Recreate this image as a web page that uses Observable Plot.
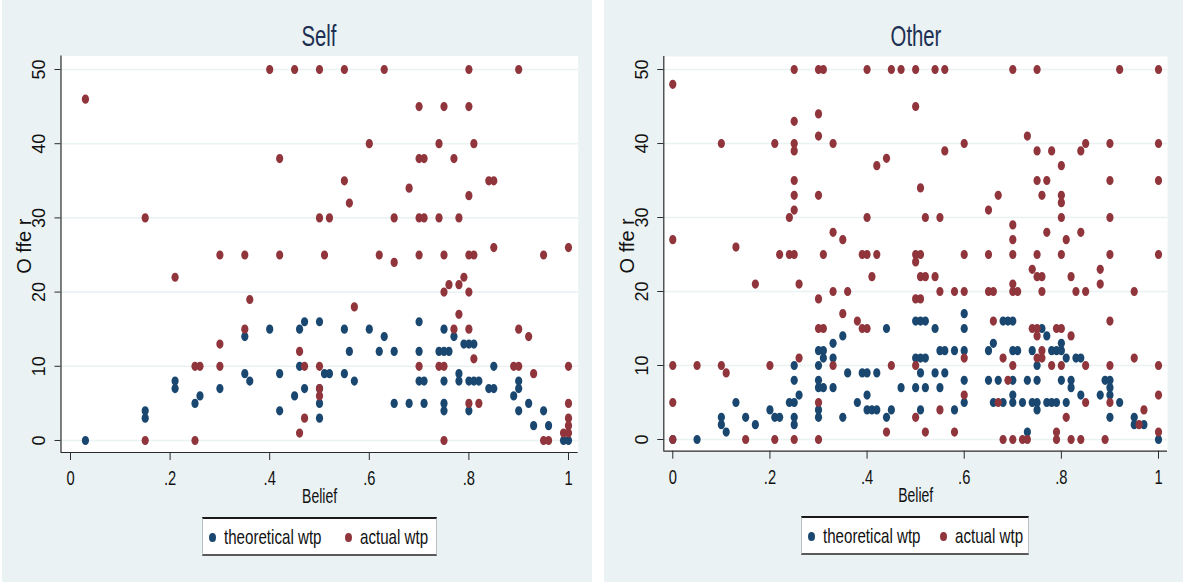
<!DOCTYPE html>
<html>
<head>
<meta charset="utf-8">
<script src="https://cdn.jsdelivr.net/npm/d3@7"></script>
<script src="https://cdn.jsdelivr.net/npm/@observablehq/plot@0.6"></script>
<style>
  html, body { margin: 0; padding: 0; background: #ffffff; }
  body { position: relative; width: 1183px; height: 582px; overflow: hidden;
         font-family: "Liberation Sans", Arial, sans-serif; }
  .panel { position: absolute; top: 0; height: 582px; background: #eaf2f3; }
  .chart { position: absolute; top: 0; }
  .title { position: absolute; top: 20px; font-size: 29px; color: #1d2f52;
           white-space: nowrap; transform: translateX(-50%) scaleX(0.7); }
  .legend { position: absolute; background: #ffffff; box-sizing: border-box;
            border: 1px solid #b9c0c2; border-top: 2px solid #1a1a1a; border-bottom: 2px solid #5a5a5a; }
  .key { position: absolute; width: 7px; height: 9px; border-radius: 50%; }
  .lab { position: absolute; font-size: 21px; line-height: 21px; color: #111; white-space: nowrap;
         transform-origin: 0 50%; transform: scaleX(0.72); }
</style>
</head>
<body>
<div class="panel" style="left:2px;width:590px"></div>
<div class="panel" style="left:604px;width:579px"></div>
<div id="self" class="chart" style="left:2px"></div>
<div id="other" class="chart" style="left:604px"></div>
<div class="title" style="left:319px">Self</div>
<div class="title" style="left:916px">Other</div>
<div id="legends"></div>
<script>
// Axis ticks and labels
const xTicks = [0, 0.2, 0.4, 0.6, 0.8, 1];
const xTickLabels = ["0", ".2", ".4", ".6", ".8", "1"];
const yTicks = [0, 10, 20, 30, 40, 50];
const yTickLabels = ["0", "10", "20", "30", "40", "50"];
const seriesNames = ["theoretical wtp", "actual wtp"];
const panelTitles = ["Self", "Other"];

// Self: [belief, offer]
const selfTheoretical = [
  [0.03,0],[0.15,4],[0.15,3],[0.21,8],[0.21,7],[0.25,5],[0.26,6],[0.30,7],
  [0.35,14],[0.35,9],[0.36,8],[0.40,15],[0.42,9],[0.42,4],[0.45,6],[0.46,15],[0.46,10],
  [0.47,16],[0.47,7],[0.50,16],[0.50,7],[0.50,5],[0.50,3],[0.51,9],[0.52,9],
  [0.55,15],[0.55,9],[0.56,12],[0.57,8],[0.60,15],[0.62,12],[0.63,14],[0.65,12],[0.65,5],
  [0.68,5],[0.70,16],[0.70,12],[0.70,8],[0.71,8],[0.71,5],[0.74,12],
  [0.75,15],[0.75,12],[0.75,8],[0.75,5],[0.75,4],[0.76,12],[0.77,14],[0.78,9],[0.78,8],
  [0.79,13],[0.80,13],[0.80,8],[0.80,4],[0.81,13],[0.81,8],[0.82,8],[0.84,7],[0.85,7],
  [0.85,10],[0.89,6],[0.90,8],[0.90,7],[0.90,4],[0.92,5],[0.93,2],[0.95,4],[0.96,2],
  [0.99,0],[1.00,0]
];
const selfActual = [
  [0.03,46],[0.15,30],[0.15,0],[0.21,22],[0.25,10],[0.26,10],[0.25,0],
  [0.30,25],[0.30,13],[0.30,10],[0.35,25],[0.35,15],[0.36,19],[0.40,50],[0.42,38],[0.42,25],
  [0.45,50],[0.46,12],[0.46,1],[0.47,10],[0.47,3],
  [0.50,50],[0.50,30],[0.50,10],[0.50,7],[0.50,6],[0.51,25],[0.52,30],[0.55,50],[0.55,35],
  [0.56,32],[0.57,18],[0.60,40],[0.62,25],[0.63,50],[0.65,30],[0.65,24],[0.68,34],
  [0.70,45],[0.70,38],[0.70,30],[0.70,25],[0.70,10],[0.71,38],[0.71,30],
  [0.74,40],[0.74,30],[0.74,10],[0.75,45],[0.75,25],[0.75,20],[0.75,10],[0.75,0],
  [0.76,21],[0.77,38],[0.77,15],[0.78,30],[0.78,21],[0.78,17],[0.79,22],
  [0.80,50],[0.80,45],[0.80,33],[0.80,25],[0.80,20],[0.80,15],[0.80,5],
  [0.81,40],[0.81,25],[0.81,11],[0.82,5],[0.84,35],[0.85,35],[0.85,26],
  [0.89,10],[0.90,10],[0.90,50],[0.90,15],[0.92,14],[0.93,9],[0.95,25],[0.95,0],[0.96,0],
  [0.99,1],[1.00,26],[1.00,10],[1.00,5],[1.00,3],[1.00,2],[1.00,1]
];

// Other: [belief, offer]
const otherTheoretical = [
  [0.00,0],[0.05,0],[0.10,3],[0.10,2],[0.11,1],[0.13,5],[0.15,3],[0.17,2],[0.20,4],
  [0.21,3],[0.22,3],[0.24,5],[0.25,5],[0.25,10],[0.25,8],[0.25,3],[0.25,2],[0.26,6],
  [0.30,12],[0.31,12],[0.31,11],[0.30,10],[0.30,8],[0.30,7],[0.31,7],[0.30,4],[0.30,3],
  [0.33,13],[0.33,11],[0.33,7],[0.35,14],[0.35,3],[0.36,9],[0.38,5],[0.39,9],[0.40,9],
  [0.40,6],[0.40,4],[0.41,4],[0.42,4],[0.42,9],[0.44,15],[0.44,3],[0.45,4],[0.47,7],
  [0.50,16],[0.51,16],[0.52,16],[0.54,15],[0.60,17],[0.60,15],
  [0.55,12],[0.56,12],[0.58,12],[0.60,12],[0.65,12],[0.66,13],
  [0.68,16],[0.69,16],[0.70,16],[0.70,12],[0.71,12],[0.74,12],
  [0.50,11],[0.51,11],[0.52,11],[0.51,9],[0.54,9],[0.56,9],[0.50,7],[0.52,7],[0.55,7],
  [0.60,8],[0.65,8],[0.67,8],[0.70,8],[0.73,8],[0.75,8],
  [0.60,5],[0.66,5],[0.68,5],[0.70,6],[0.70,5],[0.72,5],[0.74,5],[0.75,5],[0.75,4],
  [0.51,4],[0.58,4],[0.73,1],[0.76,15],[0.77,14],[0.80,13],[0.78,12],[0.79,12],[0.80,12],
  [0.81,11],[0.83,11],[0.84,11],[0.75,10],[0.80,8],[0.82,8],[0.82,7],
  [0.89,8],[0.90,8],[0.90,7],[0.90,6],[0.84,6],[0.88,6],
  [0.77,5],[0.78,5],[0.79,5],[0.81,5],[0.92,5],[0.90,3],[0.95,3],[0.95,2],[0.97,2],[1.00,0]
];
const otherActual = [
  [0.00,48],[0.00,27],[0.00,10],[0.00,5],[0.00,0],[0.05,10],[0.10,40],[0.10,10],[0.11,9],
  [0.13,26],[0.15,0],[0.17,21],[0.20,10],[0.21,40],[0.21,0],[0.22,25],[0.24,30],[0.24,25],
  [0.25,50],[0.25,43],[0.25,40],[0.25,39],[0.25,35],[0.25,33],[0.25,31],[0.25,25],[0.25,0],
  [0.26,21],[0.26,11],[0.30,50],[0.31,50],[0.30,44],[0.30,41],[0.30,33],
  [0.30,19],[0.30,15],[0.31,15],[0.30,5],[0.30,0],[0.31,25],
  [0.33,40],[0.33,28],[0.33,20],[0.33,10],[0.35,27],[0.35,17],[0.36,20],[0.38,16],
  [0.39,25],[0.40,25],[0.39,15],[0.40,15],[0.40,50],[0.40,30],[0.41,22],[0.42,37],[0.42,25],
  [0.44,38],[0.44,1],[0.45,50],[0.45,10],[0.47,50],
  [0.50,50],[0.50,45],[0.50,25],[0.50,24],[0.50,19],[0.50,10],[0.50,3],
  [0.51,34],[0.51,25],[0.51,22],[0.51,19],[0.52,30],[0.52,22],[0.52,1],[0.54,50],[0.54,22],
  [0.55,30],[0.55,20],[0.55,4],[0.56,50],[0.56,39],[0.58,20],[0.58,1],
  [0.60,40],[0.60,25],[0.60,20],[0.60,11],[0.60,6],[0.65,31],[0.65,25],[0.65,20],
  [0.66,20],[0.66,16],[0.67,33],[0.67,5],[0.68,11],[0.68,0],[0.69,8],
  [0.70,50],[0.70,29],[0.70,27],[0.70,25],[0.70,21],[0.70,20],[0.70,10],[0.70,0],[0.71,20],
  [0.72,0],[0.73,0],[0.73,41],[0.74,23],[0.74,15],
  [0.75,50],[0.75,39],[0.75,35],[0.75,25],[0.75,22],[0.75,15],[0.75,14],[0.75,11],
  [0.76,33],[0.76,22],[0.76,20],[0.76,12],[0.76,11],[0.77,35],[0.77,28],[0.78,39],[0.78,10],
  [0.79,15],[0.79,1],[0.79,0],[0.80,37],[0.80,33],[0.80,32],[0.80,30],[0.80,25],[0.80,15],[0.80,10],
  [0.81,27],[0.81,3],[0.82,22],[0.82,14],[0.82,0],[0.83,20],[0.84,39],[0.84,28],[0.84,0],
  [0.85,40],[0.85,20],[0.85,10],[0.85,5],[0.88,23],[0.88,21],[0.89,0],
  [0.90,40],[0.90,35],[0.90,30],[0.90,25],[0.90,16],[0.90,10],[0.90,5],[0.92,50],
  [0.95,20],[0.95,11],[0.96,2],[0.97,4],
  [1.00,50],[1.00,40],[1.00,35],[1.00,25],[1.00,10],[1.00,6],[1.00,1]
];

const BLUE = "#1a476f";
const RED = "#90353b";
const GRID = "#eaf2f3";
const AXIS = "#2b2b2b";

// Slightly tall oval marker
const oval = {
  draw(ctx) {
    const rx = 3.6, ry = 4.6, k = 0.5523;
    ctx.moveTo(rx, 0);
    ctx.bezierCurveTo(rx, k * ry, k * rx, ry, 0, ry);
    ctx.bezierCurveTo(-k * rx, ry, -rx, k * ry, -rx, 0);
    ctx.bezierCurveTo(-rx, -k * ry, -k * rx, -ry, 0, -ry);
    ctx.bezierCurveTo(k * rx, -ry, rx, -k * ry, rx, 0);
    ctx.closePath();
  }
};

function scatter({theo, act, width, margins, xDomain, yDomain}) {
  return Plot.plot({
    width, height: 582,
    marginLeft: margins[0], marginRight: margins[1], marginTop: margins[2], marginBottom: margins[3],
    x: {domain: xDomain},
    y: {domain: yDomain},
    style: {background: "transparent", fontFamily: "'Liberation Sans', Arial, sans-serif", color: "#111"},
    marks: [
      Plot.frame({fill: "white", stroke: null}),
      Plot.ruleY(yTicks, {stroke: GRID, strokeWidth: 1.6}),
      Plot.axisX({ticks: xTicks, tickSize: 8, tickFormat: () => "", label: null, stroke: AXIS}),
      Plot.axisY({ticks: yTicks, tickSize: 6, tickFormat: () => "", label: null, stroke: AXIS}),
      Plot.ruleX([xDomain[0]], {stroke: AXIS, strokeWidth: 1.2}),
      Plot.ruleY([yDomain[0]], {stroke: AXIS, strokeWidth: 1.2}),
      Plot.text(xTicks, {x: d => d, frameAnchor: "bottom", dy: 26, text: (d, i) => xTickLabels[i],
        fontSize: 21, lineAnchor: "middle", fill: "#111"}),
      Plot.text(yTicks, {y: d => d, frameAnchor: "left", dx: -22, rotate: -90, text: (d, i) => yTickLabels[i],
        fontSize: 18, lineAnchor: "middle", textAnchor: "middle", fill: "#111"}),
      Plot.text(["Belief"], {frameAnchor: "bottom", dy: 44, fontSize: 20, lineAnchor: "middle", fill: "#111"}),
      Plot.text(["O ffe r"], {frameAnchor: "left", dx: -36, dy: -8, rotate: -90, fontSize: 20,
        lineAnchor: "middle", textAnchor: "middle", fill: "#111"}),
      Plot.dot(theo, {x: d => d[0], y: d => d[1], symbol: oval, fill: BLUE, stroke: null}),
      Plot.dot(act, {x: d => d[0], y: d => d[1], symbol: oval, fill: RED, stroke: null})
    ]
  });
}

document.getElementById("self").append(scatter({
  theo: selfTheoretical, act: selfActual, width: 590,
  margins: [58.5, 14.3, 55.5, 130], xDomain: [-0.0191, 1.0195], yDomain: [-1.62, 51.82]
}));
document.getElementById("other").append(scatter({
  theo: otherTheoretical, act: otherActual, width: 579,
  margins: [59.3, 16, 56, 131.3], xDomain: [-0.0185, 1.0185], yDomain: [-1.58, 51.76]
}));

// Horizontal text is set in a condensed face
document.querySelectorAll(".chart svg text").forEach(t => {
  const tr = t.getAttribute("transform") || "";
  if (tr.includes("rotate")) return;
  const len = t.getComputedTextLength();
  if (len > 0) {
    t.setAttribute("textLength", (len * 0.7).toFixed(2));
    t.setAttribute("lengthAdjust", "spacingAndGlyphs");
  }
});

// Legends below each panel
const legendBoxes = [
  {left: 202, top: 517, width: 235, dots: [212, 348], labels: [224, 360]},
  {left: 801, top: 516, width: 228, dots: [811, 943], labels: [823, 955]}
];
const legends = document.getElementById("legends");
legendBoxes.forEach(b => {
  const box = document.createElement("div");
  box.className = "legend";
  Object.assign(box.style, {left: b.left + "px", top: b.top + "px", width: b.width + "px", height: "39px"});
  legends.append(box);
  [BLUE, RED].forEach((c, i) => {
    const dot = document.createElement("div");
    dot.className = "key";
    Object.assign(dot.style, {left: (b.dots[i] - 3.5) + "px", top: (b.top + 16) + "px", background: c});
    legends.append(dot);
    const lab = document.createElement("div");
    lab.className = "lab";
    lab.textContent = seriesNames[i];
    Object.assign(lab.style, {left: b.labels[i] + "px", top: (b.top + 9) + "px"});
    legends.append(lab);
  });
});
</script>
</body>
</html>
